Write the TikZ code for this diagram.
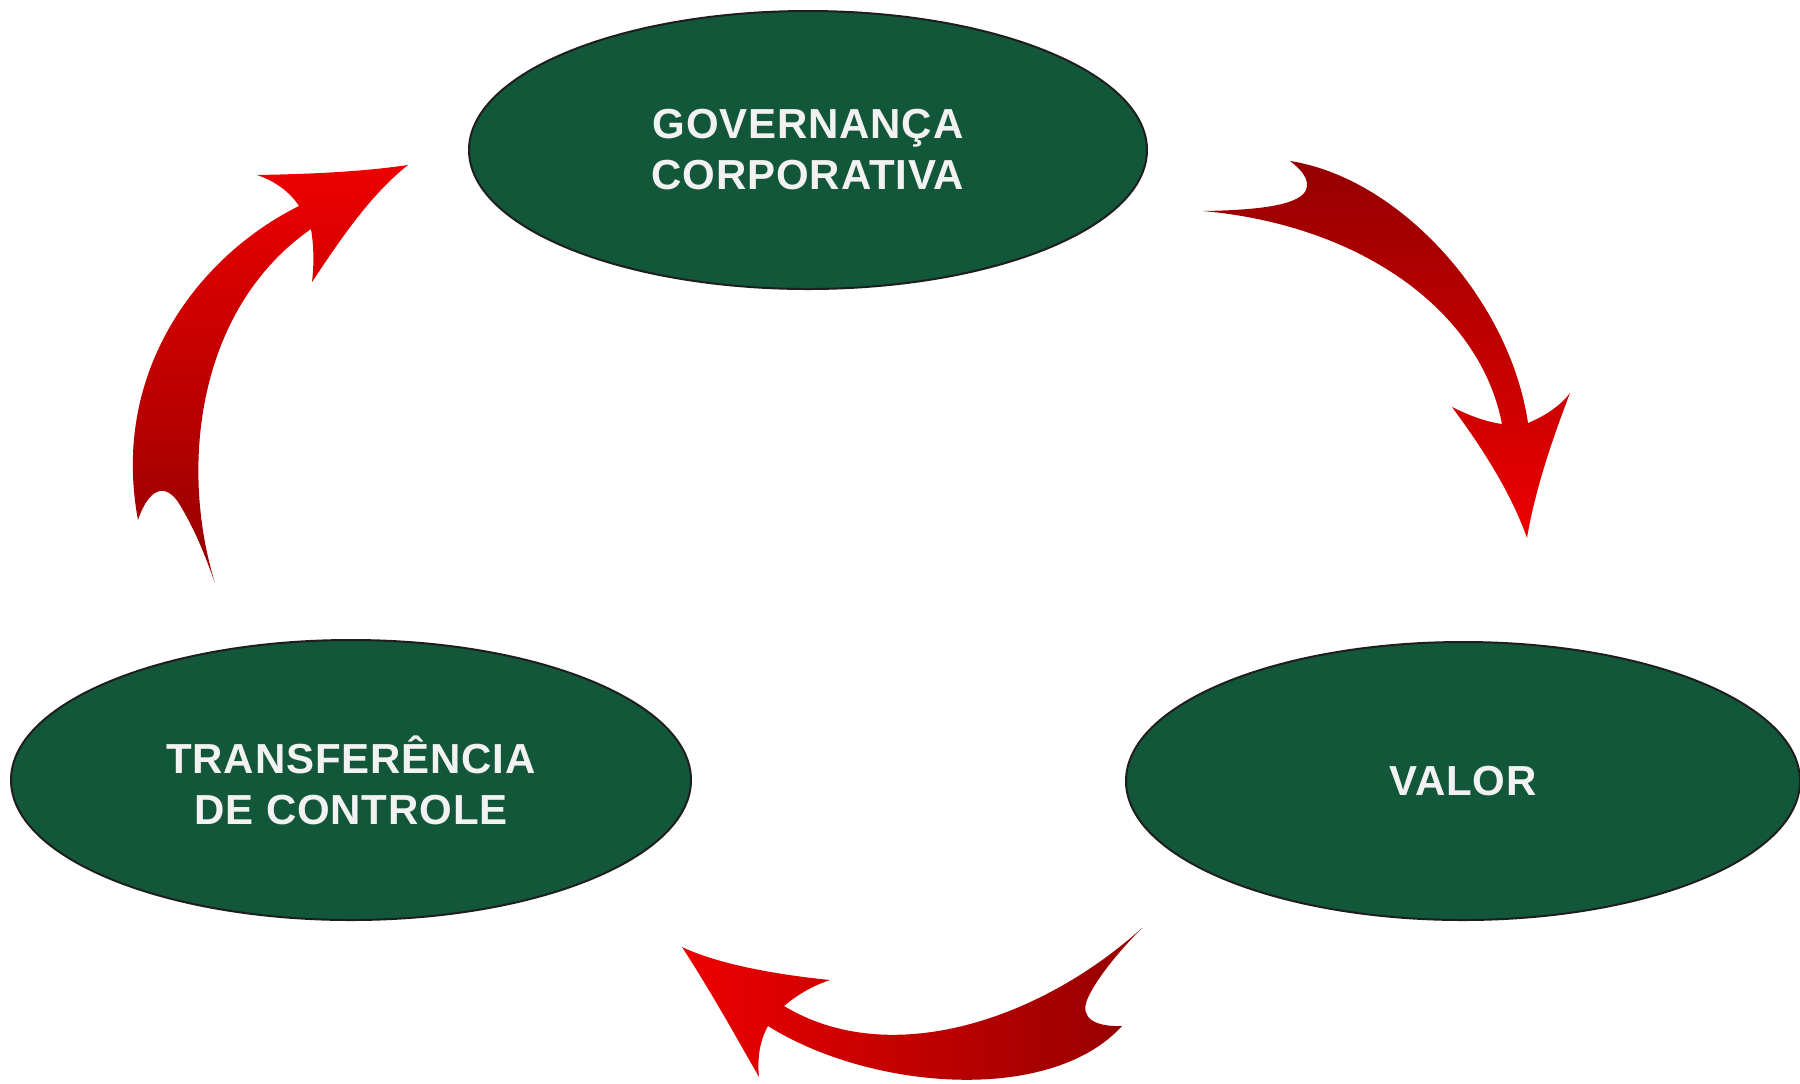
\documentclass[tikz,border=0pt]{standalone}
\usepackage{fontspec}
\newfontfamily\lblfont{Liberation Sans}[LetterSpace=2]
\usetikzlibrary{shapes.geometric}
\definecolor{govgreen}{RGB}{18,87,58}
\definecolor{rimgray}{RGB}{30,30,30}
\definecolor{txtwhite}{RGB}{242,242,242}
\definecolor{reddark}{RGB}{148,0,0}
\definecolor{redbright}{RGB}{238,0,0}
\begin{document}
\begin{tikzpicture}[x=0.5pt,y=-0.5pt,
  stage/.style={ellipse, draw=rimgray, line width=1pt, fill=govgreen, inner sep=0pt,
    minimum width=339pt, minimum height=139pt, text=txtwhite, align=center,
    font=\lblfont\bfseries\fontsize{21}{25.5}\selectfont},
  bentarrow/.style={draw=none}]
\useasboundingbox (0,0) rectangle (1800,1083);

% stages
\node[stage] (gov) at (808,150) {GOVERNANÇA\\CORPORATIVA};
\node[stage, minimum width=340pt, minimum height=140pt] (trans) at (351,780) {TRANSFERÊNCIA\\DE CONTROLE};
\node[stage, minimum width=337pt] (valor) at (1463,781) {VALOR};

% arrow: governanca -> valor
\path[bentarrow, top color=reddark, bottom color=redbright]
  (1203,211) .. controls (1270,210) and (1300,203) .. (1306,190)
  .. controls (1310,180) and (1302,170) .. (1290,161)
  .. controls (1400,178) and (1510,300) .. (1528,423)
  .. controls (1545,416) and (1560,406) .. (1570,393)
  .. controls (1552,440) and (1535,490) .. (1527,538)
  .. controls (1510,490) and (1480,445) .. (1452,407)
  .. controls (1470,416) and (1487,422) .. (1502,424)
  .. controls (1480,310) and (1360,225) .. (1203,211)
  -- cycle;

% arrow: transferencia -> governanca
\path[bentarrow, top color=redbright, bottom color=reddark]
  (138,520) .. controls (148,490) and (165,480) .. (180,505)
  .. controls (195,530) and (205,555) .. (215,583)
  .. controls (180,470) and (195,310) .. (311,229)
  .. controls (314,247) and (314,265) .. (312,282)
  .. controls (340,240) and (370,195) .. (408,165)
  .. controls (360,172) and (310,174) .. (257,175)
  .. controls (275,181) and (290,192) .. (299,206)
  .. controls (200,255) and (110,370) .. (138,520)
  -- cycle;

% arrow: valor -> transferencia
\path[bentarrow, left color=redbright, right color=reddark]
  (1142,928) .. controls (1040,1020) and (890,1070) .. (784,1006)
  .. controls (797,995) and (812,986) .. (830,980)
  .. controls (780,975) and (720,965) .. (682,947)
  .. controls (710,990) and (735,1035) .. (759,1077)
  .. controls (757,1058) and (760,1040) .. (768,1026)
  .. controls (870,1090) and (1050,1105) .. (1122,1026)
  .. controls (1095,1027) and (1080,1018) .. (1087,1000)
  .. controls (1095,980) and (1120,950) .. (1142,928)
  -- cycle;
\end{tikzpicture}
\end{document}
